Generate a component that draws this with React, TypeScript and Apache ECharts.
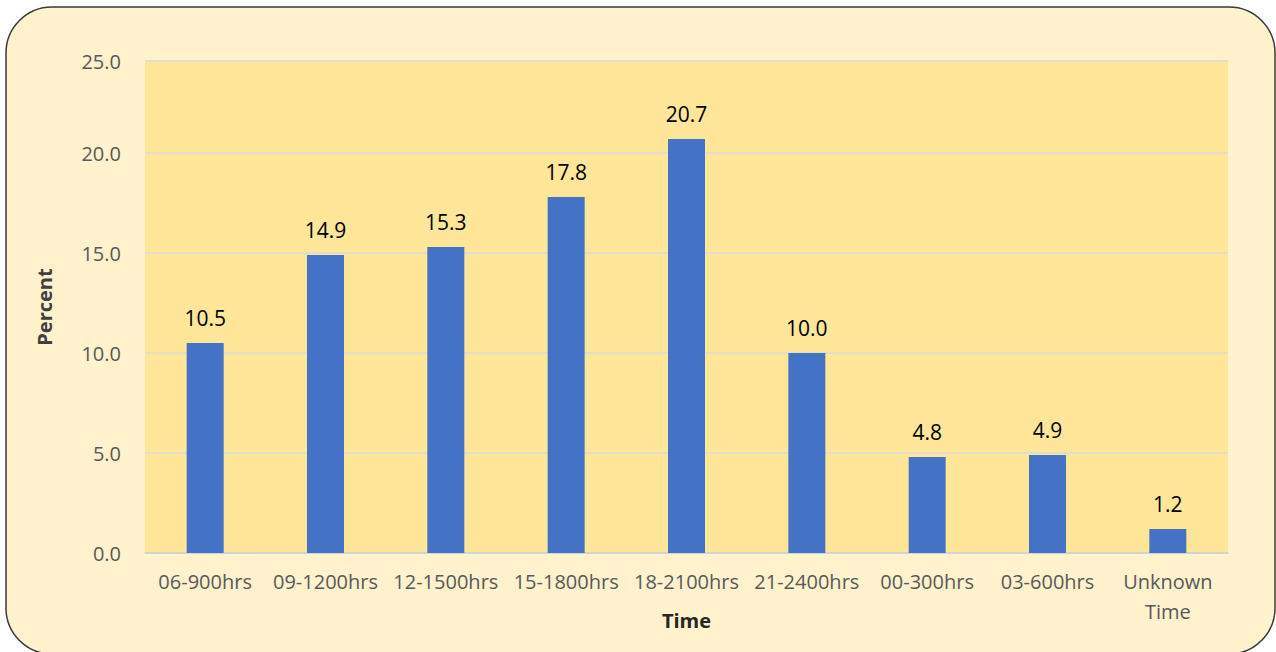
import React, { useEffect, useRef } from "react";
import * as echarts from "echarts";

const categories = ["06-900hrs", "09-1200hrs", "12-1500hrs", "15-1800hrs", "18-2100hrs", "21-2400hrs", "00-300hrs", "03-600hrs", "Unknown\nTime"];
const percentValues = [10.5, 14.9, 15.3, 17.8, 20.7, 10.0, 4.8, 4.9, 1.2];
const yTickStep = 5;
const yAxisName = "Percent";
const xAxisName = "Time";

const FONT = "'Open Sans', 'Liberation Sans', sans-serif";

export default function App() {
  const ref = useRef<HTMLDivElement>(null);
  useEffect(() => {
    document.body.style.margin = "0";
    const chart = echarts.init(ref.current!, null, { renderer: "svg" });
    chart.setOption({
      animation: false,
      backgroundColor: "#ffffff",
      graphic: [
        {
          type: "rect",
          z: -10,
          shape: { x: 6, y: 7, width: 1269, height: 647, r: 46 },
          style: { fill: "#FFF2CC", stroke: "#3a3a3a", lineWidth: 1.5 },
        },
      ],
      grid: {
        left: 145,
        right: 48,
        top: 61,
        bottom: 99,
        show: true,
        backgroundColor: "#FFE699",
        borderWidth: 0,
        containLabel: false,
        outerBoundsMode: "none",
      },
      xAxis: {
        type: "category",
        data: categories,
        name: xAxisName,
        nameLocation: "middle",
        nameGap: 57,
        nameMoveOverlap: false,
        nameTextStyle: { fontFamily: FONT, fontWeight: "bold", fontSize: 20, color: "#262626" },
        axisLine: { lineStyle: { color: "#D0D0D0", width: 1.5 } },
        axisTick: { show: false },
        axisLabel: { fontFamily: FONT, fontSize: 20, color: "#595959", margin: 13, lineHeight: 30, interval: 0 },
      },
      yAxis: {
        type: "value",
        min: 0,
        max: 24.6,
        interval: yTickStep,
        name: yAxisName,
        nameLocation: "middle",
        nameGap: 91,
        nameRotate: 90,
        nameMoveOverlap: false,
        nameTextStyle: { fontFamily: FONT, fontWeight: "bold", fontSize: 20, color: "#404040" },
        axisLine: { show: false },
        axisTick: { show: false },
        axisLabel: {
          fontFamily: FONT,
          fontSize: 20,
          color: "#595959",
          margin: 24,
          formatter: (v: number) => (Math.round(v / yTickStep) * yTickStep).toFixed(1),
        },
        splitLine: { lineStyle: { color: "#D9D9D9", width: 1.5 } },
      },
      series: [
        {
          type: "bar",
          data: percentValues,
          barWidth: 37,
          itemStyle: { color: "#4472C4" },
          label: {
            show: true,
            position: "top",
            distance: 15,
            fontFamily: FONT,
            fontSize: 21,
            color: "#000000",
            formatter: (p: any) => Number(p.value).toFixed(1),
          },
        },
      ],
    });
    return () => chart.dispose();
  }, []);
  return <div ref={ref} style={{ width: 1276, height: 652 }} />;
}
